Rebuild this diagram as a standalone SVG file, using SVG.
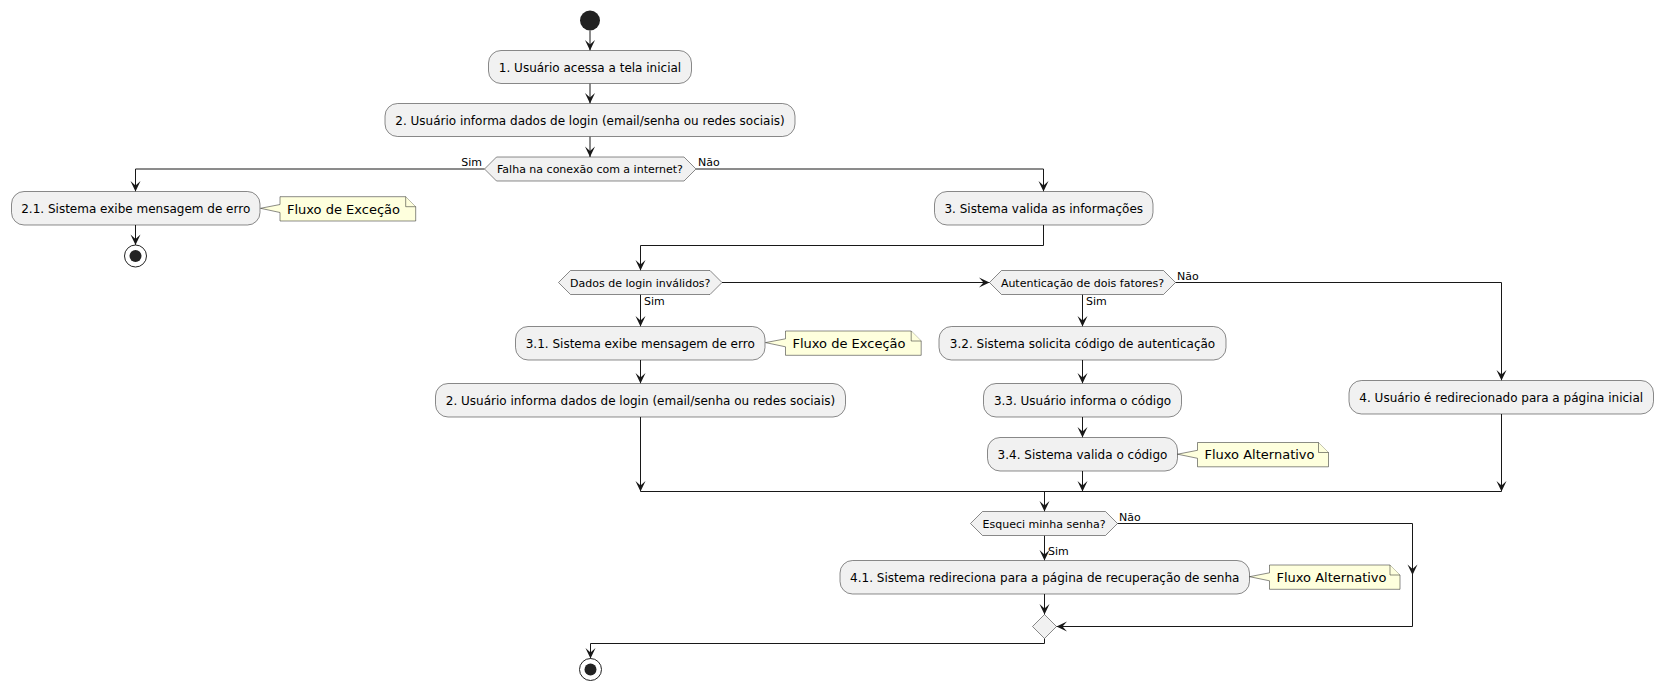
<svg xmlns="http://www.w3.org/2000/svg" width="1663" height="690" viewBox="0 0 1663 690">
<style>
.box{fill:#F1F1F1;stroke:#181818;stroke-width:0.5}
.dia{fill:#F1F1F1;stroke:#181818;stroke-width:0.5}
.note{fill:#FEFFDD;stroke:#181818;stroke-width:0.5}
.t{font-family:"DejaVu Sans",sans-serif;font-size:12px;fill:#000;text-anchor:middle}
.dt{font-family:"DejaVu Sans",sans-serif;font-size:11px;fill:#000;text-anchor:middle}
.lbl{font-family:"DejaVu Sans",sans-serif;font-size:11px;fill:#000}
.nt{font-family:"DejaVu Sans",sans-serif;font-size:13px;fill:#000}
.ln{fill:none;stroke:#181818;stroke-width:1}
.arr{fill:none;stroke:#181818;stroke-width:1;marker-end:url(#ah)}
</style>
<defs>
<marker id="ah" viewBox="-12 -6 13 12" refX="0" refY="0" markerWidth="13" markerHeight="12" markerUnits="userSpaceOnUse" orient="auto" overflow="visible">
<path d="M0,0 L-10.5,-5 L-6,0 L-10.5,5 Z" fill="#181818"/>
</marker>
</defs>

<g id="connectors">
<path class="arr" d="M590,30.5 V50.5"/>
<path class="arr" d="M590,83.5 V103.5"/>
<path class="arr" d="M590,136.5 V157"/>
<path class="arr" d="M484.5,169 H135.5 V191.5"/>
<path class="arr" d="M135.5,225 V245"/>
<path class="arr" d="M696,169 H1043.5 V191.5"/>
<path class="arr" d="M1043.5,225 V245.5 H640.5 V270.5"/>
<path class="arr" d="M722,282.5 H989.5"/>
<path class="arr" d="M1175.5,282.5 H1501.5 V380.5"/>
<path class="arr" d="M640.5,294.5 V326.5"/>
<path class="arr" d="M1082.5,294.5 V326.5"/>
<path class="arr" d="M640.5,360 V383.5"/>
<path class="arr" d="M640.5,417 V491.5"/>
<path class="arr" d="M1082.5,360 V383.5"/>
<path class="arr" d="M1082.5,417 V437.5"/>
<path class="arr" d="M1082.5,471 V491.5"/>
<path class="arr" d="M1501.5,414 V491.5"/>
<path class="ln" d="M640.5,491.5 H1501.5"/>
<path class="arr" d="M1044.5,491.5 V511.5"/>
<path class="arr" d="M1044.5,535.5 V560.5"/>
<path class="arr" d="M1044.5,594 V614.5"/>
<path class="arr" d="M1117.5,523.5 H1412.5 V575"/>
<path class="arr" d="M1412.5,575 V626.5 H1056.5"/>
<path class="arr" d="M1044.5,638.5 V643.5 H590.5 V658.5"/>
<text class="lbl" x="482" y="166" text-anchor="end">Sim</text>
<text class="lbl" x="698" y="166">Não</text>
<text class="lbl" x="644" y="305">Sim</text>
<text class="lbl" x="1086" y="305">Sim</text>
<text class="lbl" x="1177" y="280">Não</text>
<text class="lbl" x="1119" y="521">Não</text>
<text class="lbl" x="1048" y="555">Sim</text>
</g>

<g id="start"><circle cx="590" cy="20.5" r="10" fill="#222222"/></g>

<g id="a1"><rect class="box" x="488.5" y="50.5" width="203" height="33" rx="12.5"/><text class="t" x="590" y="71.5">1. Usuário acessa a tela inicial</text></g>
<g id="a2"><rect class="box" x="385" y="103.5" width="410" height="33" rx="12.5"/><text class="t" x="590" y="124.5">2. Usuário informa dados de login (email/senha ou redes sociais)</text></g>

<g id="d1"><polygon class="dia" points="484.5,169 496.5,157 684,157 696,169 684,181 496.5,181"/><text class="dt" x="590" y="173">Falha na conexão com a internet?</text></g>

<g id="a21"><rect class="box" x="11.5" y="191.5" width="248.5" height="33.5" rx="12.5"/><text class="t" x="135.75" y="212.5">2.1. Sistema exibe mensagem de erro</text></g>
<g id="n1"><path class="note" d="M280,196.7 V204.5 L260.5,208.3 L280,212.5 V221 H415.7 V206.7 L405.7,196.7 Z"/><path class="note" d="M405.7,196.7 V206.7 H415.7"/><text class="nt" x="287" y="213.5">Fluxo de Exceção</text></g>
<g id="stop1"><circle cx="135.5" cy="256" r="11" fill="none" stroke="#222222" stroke-width="1"/><circle cx="135.5" cy="256" r="6" fill="#222222"/></g>

<g id="a3"><rect class="box" x="934.5" y="191.5" width="218.5" height="33.5" rx="12.5"/><text class="t" x="1043.75" y="212.5">3. Sistema valida as informações</text></g>

<g id="d2"><polygon class="dia" points="558.5,282.5 570.5,270.5 710,270.5 722,282.5 710,294.5 570.5,294.5"/><text class="dt" x="640.25" y="286.5">Dados de login inválidos?</text></g>
<g id="d3"><polygon class="dia" points="989.5,282.5 1001.5,270.5 1163.5,270.5 1175.5,282.5 1163.5,294.5 1001.5,294.5"/><text class="dt" x="1082.5" y="286.5">Autenticação de dois fatores?</text></g>

<g id="a31"><rect class="box" x="515.5" y="326.5" width="249.5" height="33.5" rx="12.5"/><text class="t" x="640.25" y="347.5">3.1. Sistema exibe mensagem de erro</text></g>
<g id="n2"><path class="note" d="M785.5,331 V338.8 L765.5,342.6 L785.5,346.8 V355.3 H921.2 V341 L911.2,331 Z"/><path class="note" d="M911.2,331 V341 H921.2"/><text class="nt" x="792.5" y="347.8">Fluxo de Exceção</text></g>
<g id="a2b"><rect class="box" x="435.5" y="383.5" width="410" height="33.5" rx="12.5"/><text class="t" x="640.5" y="404.5">2. Usuário informa dados de login (email/senha ou redes sociais)</text></g>

<g id="a32"><rect class="box" x="939" y="326.5" width="287" height="33.5" rx="12.5"/><text class="t" x="1082.5" y="347.5">3.2. Sistema solicita código de autenticação</text></g>
<g id="a33"><rect class="box" x="983.5" y="383.5" width="198" height="33.5" rx="12.5"/><text class="t" x="1082.5" y="404.5">3.3. Usuário informa o código</text></g>
<g id="a34"><rect class="box" x="987.5" y="437.5" width="190" height="33.5" rx="12.5"/><text class="t" x="1082.5" y="458.5">3.4. Sistema valida o código</text></g>
<g id="n3"><path class="note" d="M1197.5,442.5 V450.3 L1177.5,454.2 L1197.5,458.3 V466.8 H1328.5 V452.5 L1318.5,442.5 Z"/><path class="note" d="M1318.5,442.5 V452.5 H1328.5"/><text class="nt" x="1204.5" y="459.3">Fluxo Alternativo</text></g>

<g id="a4"><rect class="box" x="1349" y="380.5" width="304.5" height="33.5" rx="12.5"/><text class="t" x="1501.25" y="401.5">4. Usuário é redirecionado para a página inicial</text></g>

<g id="d4"><polygon class="dia" points="970.5,523.5 982.5,511.5 1105.5,511.5 1117.5,523.5 1105.5,535.5 982.5,535.5"/><text class="dt" x="1044" y="527.5">Esqueci minha senha?</text></g>
<g id="a41"><rect class="box" x="840" y="560.5" width="409.5" height="33.5" rx="12.5"/><text class="t" x="1044.75" y="581.5">4.1. Sistema redireciona para a página de recuperação de senha</text></g>
<g id="n4"><path class="note" d="M1269.5,565 V572.8 L1249.5,576.7 L1269.5,580.8 V589.3 H1400 V575 L1390,565 Z"/><path class="note" d="M1390,565 V575 H1400"/><text class="nt" x="1276.5" y="581.8">Fluxo Alternativo</text></g>

<g id="merge"><polygon class="dia" points="1044.5,614.5 1056.5,626.5 1044.5,638.5 1032.5,626.5"/></g>

<g id="stop2"><circle cx="590.5" cy="669.5" r="11" fill="none" stroke="#222222" stroke-width="1"/><circle cx="590.5" cy="669.5" r="6" fill="#222222"/></g>
</svg>
